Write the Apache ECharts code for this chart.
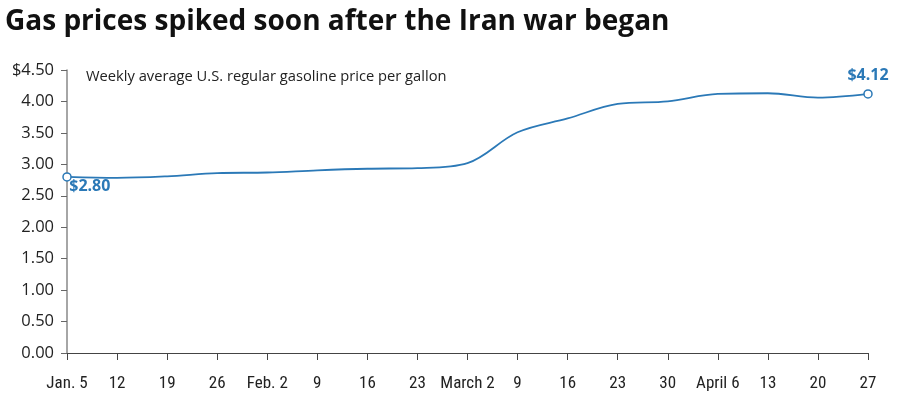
<!DOCTYPE html>
<html>
<head>
<meta charset="utf-8">
<script src="https://cdn.jsdelivr.net/npm/echarts@6/dist/echarts.min.js"></script>
<style>
  html, body { margin: 0; padding: 0; background: #fff; }
  #chart { width: 900px; height: 410px; }
</style>
</head>
<body>
<div id="chart"></div>
<script>
var weeks = ['Jan. 5', '12', '19', '26', 'Feb. 2', '9', '16', '23', 'March 2',
             '9', '16', '23', '30', 'April 6', '13', '20', '27'];
var prices = [2.80, 2.785, 2.81, 2.86, 2.87, 2.905, 2.93, 2.94, 3.02,
              3.51, 3.73, 3.96, 4.00, 4.12, 4.13, 4.06, 4.12];
var yTicks = [0, 0.5, 1, 1.5, 2, 2.5, 3, 3.5, 4, 4.5];

var lineColor = '#2b79b7';

function buildData() {
    var last = prices.length - 1;
    return prices.map(function (v, i) {
        if (i !== 0 && i !== last) return v;
        return {
            value: v,
            symbol: 'circle',
            symbolSize: 8,
            itemStyle: { color: '#fff', borderColor: lineColor, borderWidth: 1.5 },
            label: {
                show: true,
                formatter: '$' + v.toFixed(2),
                color: lineColor,
                fontSize: 16,
                fontWeight: 'bold',
                fontFamily: 'Open Sans',
                position: i === 0 ? [7, 6] : 'top',
                distance: 6,
                align: i === 0 ? 'left' : 'center',
                verticalAlign: i === 0 ? 'top' : 'bottom'
            }
        };
    });
}

var chart = echarts.init(document.getElementById('chart'));
var option = {
    animation: false,
    title: [
        {
            text: 'Gas prices spiked soon after the Iran war began',
            left: 0,
            top: 3,
            textStyle: { fontSize: 28, fontWeight: 'bold', color: '#111', fontFamily: 'Open Sans' }
        },
        {
            text: 'Weekly average U.S. regular gasoline price per gallon',
            left: 81,
            top: 64,
            textStyle: { fontSize: 14.7, fontWeight: 'normal', color: '#222', fontFamily: 'Open Sans' }
        }
    ],
    grid: { left: 67, right: 32, top: 70, bottom: 57, containLabel: false },
    xAxis: {
        type: 'category',
        data: weeks,
        boundaryGap: false,
        axisLine: { lineStyle: { color: '#444', width: 1 } },
        axisTick: { show: true, length: 7, lineStyle: { color: '#444' } },
        axisLabel: {
            margin: 22,
            fontSize: 17,
            color: '#222',
            interval: 0,
            fontFamily: "'Liberation Sans Narrow', 'Roboto Condensed', sans-serif"
        },
        splitLine: { show: false }
    },
    yAxis: {
        type: 'value',
        min: yTicks[0],
        max: yTicks[yTicks.length - 1],
        interval: 0.5,
        axisLine: { show: true, lineStyle: { color: '#888', width: 1.5 } },
        axisTick: { show: true, length: 6, lineStyle: { color: '#666' } },
        axisLabel: {
            margin: 13,
            fontSize: 16.5,
            color: '#222',
            fontFamily: 'Open Sans',
            formatter: function (v) {
                return (v === yTicks[yTicks.length - 1] ? '$' : '') + v.toFixed(2);
            }
        },
        splitLine: { show: false }
    },
    series: [
        {
            type: 'line',
            data: buildData(),
            symbol: 'none',
            showSymbol: true,
            showAllSymbol: true,
            smooth: 0.35,
            lineStyle: { color: lineColor, width: 1.8 },
            itemStyle: { color: lineColor },
            z: 3
        }
    ]
};
chart.setOption(option);
</script>
</body>
</html>
